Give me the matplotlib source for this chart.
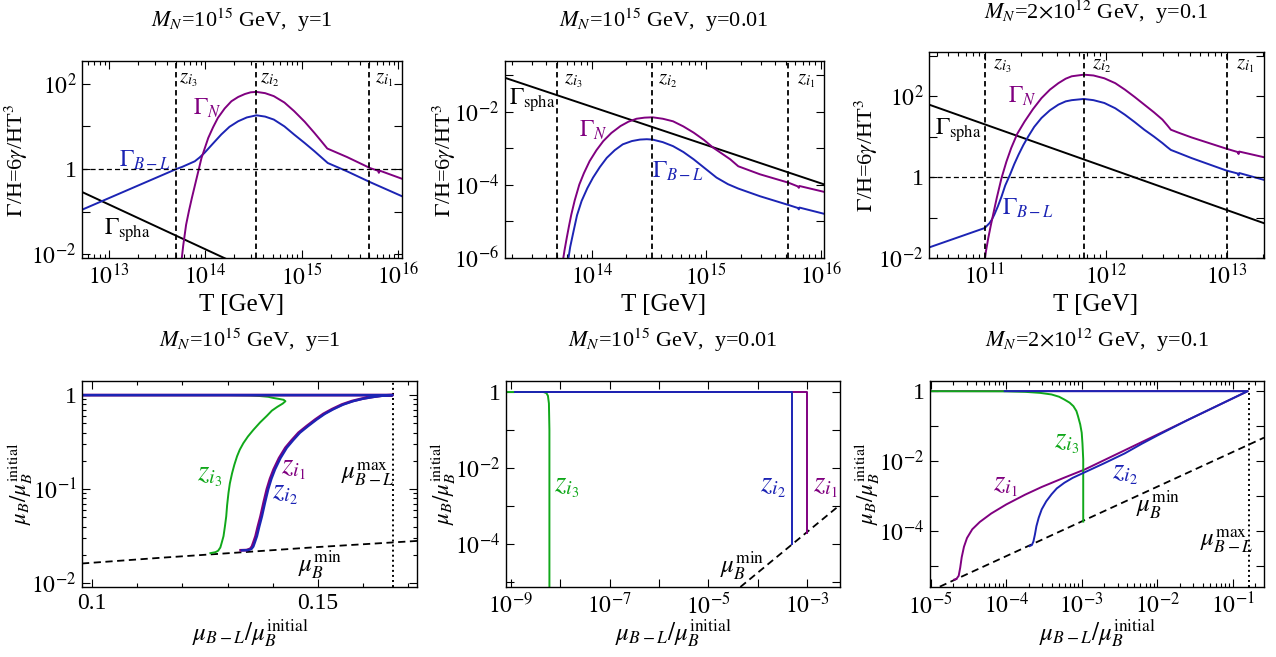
import numpy as np
import matplotlib
matplotlib.use("Agg")
import matplotlib.pyplot as plt
from matplotlib.ticker import LogLocator, FixedLocator, MultipleLocator, FuncFormatter, NullFormatter

plt.rcParams['font.family'] = ['Liberation Serif', 'DejaVu Serif']
plt.rcParams['mathtext.fontset'] = 'stix'

PURPLE = '#800080'
BLUE = '#1c24b4'
GREEN = '#10a81a'

# ---------------- top row: rates vs T (log10 values) ----
# panel 1: M_N = 1e15 GeV, y = 1
p1_zlines = [5e13, 3.33e14, 5e15]
p1_bl_logT = [12.72, 13.70, 13.76, 13.82, 13.89, 13.94, 13.99, 14.08, 14.165, 14.25, 14.34, 14.43, 14.53,
              14.62, 14.71, 14.82, 14.92, 15.03, 15.13, 15.20, 15.27, 15.47, 15.71, 16.04]
p1_bl_logG = [-0.957, 0.0, 0.05, 0.11, 0.18, 0.27, 0.376, 0.60, 0.81, 0.99, 1.12, 1.21, 1.26,
              1.23, 1.16, 1.00, 0.81, 0.61, 0.42, 0.28, 0.14, -0.055, -0.31, -0.64]
p1_N_logT = [13.74, 13.77, 13.80, 13.83, 13.86, 13.91, 13.96, 14.03, 14.08, 14.13, 14.20, 14.27, 14.34, 14.41,
             14.47, 14.53, 14.62, 14.71, 14.82, 14.92, 15.03, 15.13, 15.20, 15.265, 15.47, 15.71, 15.79, 15.80,
             15.81, 16.04]
p1_N_logG = [-2.4, -1.8, -1.31, -0.98, -0.68, -0.21, 0.26, 0.73, 0.98, 1.20, 1.42, 1.59, 1.69, 1.76,
             1.80, 1.81, 1.78, 1.71, 1.56, 1.36, 1.11, 0.85, 0.66, 0.48, 0.28, 0.02, -0.04, -0.09,
             -0.04, -0.23]
p1_sp_logT = [12.72, 14.30]
p1_sp_logG = [-0.54, -2.20]

# panel 2: M_N = 1e15 GeV, y = 0.01
p2_zlines = [5e13, 3.33e14, 5.2e15]
p2_N_logT = [13.74, 13.76, 13.78, 13.80, 13.82, 13.85, 13.89, 13.93, 13.98, 14.04, 14.10, 14.17, 14.25, 14.32,
             14.39, 14.46, 14.53, 14.62, 14.71, 14.80, 14.89, 14.98, 15.06, 15.14, 15.21, 15.28, 15.47, 15.72,
             15.80, 15.81, 15.815, 16.03]
p2_N_logG = [-6.2, -5.8, -5.45, -5.12, -4.81, -4.42, -3.99, -3.68, -3.35, -3.05, -2.80, -2.58, -2.39, -2.27,
             -2.19, -2.16, -2.15, -2.19, -2.26, -2.40, -2.57, -2.77, -2.98, -3.15, -3.30, -3.49, -3.71, -3.94,
             -4.04, -4.08, -4.03, -4.19]
p2_bl_logT = [13.785, 13.81, 13.84, 13.87, 13.91, 13.96, 14.01, 14.07, 14.13, 14.20, 14.27, 14.35, 14.42,
              14.48, 14.53, 14.62, 14.71, 14.80, 14.89, 14.99, 15.09, 15.19, 15.28, 15.47, 15.72, 15.80,
              15.81, 15.815, 16.03]
p2_bl_logG = [-6.2, -5.7, -5.26, -4.83, -4.44, -4.09, -3.80, -3.51, -3.26, -3.05, -2.89, -2.80, -2.76,
              -2.75, -2.76, -2.83, -2.94, -3.10, -3.30, -3.55, -3.80, -3.98, -4.10, -4.31, -4.55, -4.63,
              -4.67, -4.62, -4.79]
p2_sp_logT = [13.24, 16.035]
p2_sp_logG = [-1.07, -3.99]

# panel 3: M_N = 2e12 GeV, y = 0.1
p3_zlines = [1e11, 6.67e11, 1e13]
p3_N_logT = [10.99, 11.01, 11.03, 11.05, 11.07, 11.10, 11.14, 11.18, 11.22, 11.27, 11.33, 11.40, 11.47, 11.54,
             11.61, 11.67, 11.72, 11.82, 11.90, 11.99, 12.08, 12.16, 12.24, 12.32, 12.40, 12.47, 12.51, 12.54,
             12.60, 12.71, 13.0, 13.09, 13.10, 13.105, 13.31]
p3_N_logG = [-2.3, -1.85, -1.51, -1.21, -0.93, -0.52, -0.02, 0.38, 0.72, 1.07, 1.37, 1.68, 1.95, 2.16,
             2.32, 2.43, 2.49, 2.53, 2.51, 2.44, 2.32, 2.16, 1.98, 1.79, 1.60, 1.42, 1.28, 1.17,
             1.10, 0.98, 0.70, 0.62, 0.57, 0.63, 0.49]
p3_bl_logT = [10.54, 11.0, 11.04, 11.06, 11.08, 11.11, 11.14, 11.17, 11.21, 11.245, 11.28, 11.32, 11.36, 11.41,
              11.47, 11.54, 11.61, 11.67, 11.72, 11.82, 11.90, 11.99, 12.08, 12.16, 12.24, 12.32, 12.40, 12.47,
              12.51, 12.54, 12.60, 12.71, 13.0, 13.09, 13.10, 13.105, 13.31]
p3_bl_logG = [-1.74, -1.26, -1.14, -1.05, -0.93, -0.72, -0.48, -0.21, 0.06, 0.32, 0.55, 0.79, 1.0, 1.24,
              1.46, 1.65, 1.79, 1.87, 1.90, 1.93, 1.90, 1.83, 1.70, 1.54, 1.36, 1.17, 1.00, 0.84,
              0.74, 0.67, 0.60, 0.47, 0.16, 0.09, 0.04, 0.10, -0.07]
p3_sp_logT = [10.54, 13.31]
p3_sp_logG = [1.79, -1.14]

# ---------------- bottom row: mu_B vs mu_{B-L} -------------------------------
mu_BL_max = 1.0 / 6.0

# panel 4 (x linear, y as log10)
p4_green_x = [0.095, 0.130, 0.1350, 0.1372, 0.1390, 0.1401, 0.1413, 0.1424, 0.1428, 0.1422, 0.1410, 0.1398,
              0.1387, 0.1372, 0.1357, 0.1345, 0.1335, 0.1327, 0.1321, 0.1315, 0.1310, 0.1305, 0.1302, 0.1299,
              0.1297, 0.1294, 0.1291, 0.1287, 0.1284, 0.1279, 0.1273, 0.1262]
p4_green_logy = [0.0, 0.0, -0.004, -0.01, -0.018, -0.03, -0.04, -0.05, -0.065, -0.09, -0.125, -0.165,
                 -0.22, -0.29, -0.37, -0.44, -0.51, -0.58, -0.65, -0.74, -0.83, -0.94, -1.04, -1.17,
                 -1.29, -1.40, -1.50, -1.57, -1.62, -1.655, -1.67, -1.68]
p4_blue_x = [0.095, 0.1665, 0.1645, 0.1622, 0.1600, 0.1578, 0.1556, 0.1534, 0.1515, 0.1497, 0.1478, 0.1460,
             0.1445, 0.1431, 0.1417, 0.1405, 0.1397, 0.1390, 0.1383, 0.1376, 0.1370, 0.1365, 0.1360, 0.1357,
             0.1353, 0.1345, 0.1332]
p4_blue_logy = [0.0, 0.0, -0.005, -0.02, -0.038, -0.064, -0.10, -0.15, -0.20, -0.26, -0.33, -0.40,
                -0.48, -0.56, -0.67, -0.79, -0.89, -1.00, -1.14, -1.29, -1.40, -1.50, -1.57, -1.61,
                -1.635, -1.648, -1.65]
p4_purple_x = [0.095, 0.1665, 0.1642, 0.1619, 0.1597, 0.1575, 0.1553, 0.1531, 0.1512, 0.1494, 0.1475, 0.1457,
               0.1442, 0.1428, 0.1414, 0.1402, 0.1394, 0.1387, 0.1380, 0.1373, 0.1367, 0.1362, 0.1357, 0.1354,
               0.1350, 0.1342, 0.1329]
p4_purple_logy = p4_blue_logy
p4_min_x = [0.0978, 0.115, 0.135, 0.150, 0.172]
p4_min_logy = [-1.79, -1.73, -1.665, -1.615, -1.55]

# panel 5 (both as log10)
p5_green_logx = [-9.5, -8.34, -8.28, -8.25, -8.23, -8.22, -8.22]
p5_green_logy = [0.0, 0.0, -0.03, -0.10, -0.30, -1.0, -5.5]
p5_blue_logx = [-8.92, -3.295, -3.295]
p5_blue_logy = [0.0, 0.0, -4.01]
p5_purple_logx = [-8.92, -2.99, -2.99]
p5_purple_logy = [0.0, 0.0, -3.70]
p5_min_logx = [-4.35, -2.33]
p5_min_logy = [-5.13, -2.97]

# panel 6 (both as log10)
p6_green_logx = [-5.5, -4.0, -3.75, -3.55, -3.40, -3.30, -3.23, -3.16, -3.11, -3.07, -3.05, -3.02, -3.00,
                 -2.99, -2.98, -2.98]
p6_green_logy = [0.0, -0.005, -0.02, -0.05, -0.095, -0.16, -0.24, -0.33, -0.43, -0.57, -0.71, -0.95, -1.19,
                 -1.5, -1.95, -3.73]
p6_purple_logx = [-5.5, -0.80, -2.96, -3.25, -3.53, -3.75, -4.0, -4.2, -4.35, -4.45, -4.52, -4.56, -4.59,
                  -4.61, -4.63, -4.66, -4.69]
p6_purple_logy = [0.0, 0.0, -2.24, -2.49, -2.74, -2.96, -3.24, -3.50, -3.74, -3.95, -4.20, -4.45, -4.75,
                  -5.05, -5.28, -5.37, -5.39]
p6_blue_logx = [-4.02, -0.80, -1.6, -1.99, -2.2, -2.43, -2.7, -2.97, -3.12, -3.23, -3.33, -3.40, -3.47,
                -3.53, -3.57, -3.60, -3.62, -3.64, -3.66, -3.69]
p6_blue_logy = [0.0, 0.0, -0.83, -1.26, -1.50, -1.78, -2.06, -2.33, -2.48, -2.62, -2.78, -2.95, -3.15,
                -3.38, -3.62, -3.86, -4.10, -4.30, -4.40, -4.43]
p6_min_logx = [-4.88, -0.585]
p6_min_logy = [-5.59, -1.33]

W, H = 1276, 657
fig = plt.figure(figsize=(W / 100, H / 100), dpi=100)


def add_ax(l, r, t, b):
    return fig.add_axes([l / W, 1 - b / H, (r - l) / W, (b - t) / H])


def ftext(x, y, s, **kw):
    kw.setdefault('ha', 'center')
    kw.setdefault('va', 'center')
    fig.text(x / W, 1 - y / H, s, **kw)


def log_fmt(show):
    def f(v, pos):
        e = int(round(np.log10(v)))
        if e not in show:
            return ''
        return '1' if e == 0 else r'$10^{%d}$' % e
    return FuncFormatter(f)


def style(ax):
    ax.tick_params(which='both', direction='in', top=True, right=True, labelsize=17, width=0.8)
    ax.tick_params(which='major', length=6, pad=4)
    ax.tick_params(which='minor', length=3)
    for s in ax.spines.values():
        s.set_linewidth(1.0)


def decade_ticks(ax, axis, lo, hi, show, minor=True):
    a = ax.xaxis if axis == 'x' else ax.yaxis
    a.set_major_locator(FixedLocator([10.0 ** e for e in range(lo, hi + 1)]))
    a.set_major_formatter(log_fmt(show))
    if minor:
        a.set_minor_locator(LogLocator(base=10, subs=np.arange(2, 10), numticks=50))
    else:
        a.set_minor_locator(FixedLocator([]))
    a.set_minor_formatter(NullFormatter())


def p10(v):
    return 10.0 ** np.array(v)


lw = 1.4
ylab_top = r'$\Gamma$/H=6$\gamma$/HT$^3$'
ylab_bot = r'$\mu_B/\mu_B^{\rm initial}$'
xlab_bot = r'$\mu_{B-L}/\mu_B^{\rm initial}$'

# ---- panel 1
ax = add_ax(82, 402, 61, 258)
ax.set_xscale('log'); ax.set_yscale('log')
ax.plot(p10(p1_sp_logT), p10(p1_sp_logG), color='black', lw=lw)
ax.plot(p10(p1_bl_logT), p10(p1_bl_logG), color=BLUE, lw=lw)
ax.plot(p10(p1_N_logT), p10(p1_N_logG), color=PURPLE, lw=lw)
ax.axhline(1, color='black', lw=0.9, ls=(0, (4, 2.5)))
for z in p1_zlines:
    ax.axvline(z, color='black', lw=1.3, ls=(0, (3, 2)))
ax.set_xlim(10 ** 12.72, 10 ** 16.04)
ax.set_ylim(10 ** -2.09, 10 ** 2.535)
decade_ticks(ax, 'x', 12, 16, {13, 14, 15, 16})
decade_ticks(ax, 'y', -3, 3, {-2, 0, 2}, minor=False)
style(ax)

# ---- panel 2
ax = add_ax(505, 824, 61, 258)
ax.set_xscale('log'); ax.set_yscale('log')
ax.plot(p10(p2_sp_logT), p10(p2_sp_logG), color='black', lw=lw)
ax.plot(p10(p2_bl_logT), p10(p2_bl_logG), color=BLUE, lw=lw)
ax.plot(p10(p2_N_logT), p10(p2_N_logG), color=PURPLE, lw=lw)
for z in p2_zlines:
    ax.axvline(z, color='black', lw=1.3, ls=(0, (3, 2)))
ax.set_xlim(10 ** 13.24, 10 ** 16.03)
ax.set_ylim(1e-6, 10 ** -0.61)
decade_ticks(ax, 'x', 13, 16, {14, 15, 16})
decade_ticks(ax, 'y', -7, 0, {-2, -4, -6}, minor=False)
style(ax)

# ---- panel 3
ax = add_ax(929, 1264, 52, 258)
ax.set_xscale('log'); ax.set_yscale('log')
ax.plot(p10(p3_sp_logT), p10(p3_sp_logG), color='black', lw=lw)
ax.plot(p10(p3_bl_logT), p10(p3_bl_logG), color=BLUE, lw=lw)
ax.plot(p10(p3_N_logT), p10(p3_N_logG), color=PURPLE, lw=lw)
ax.axhline(1, color='black', lw=0.9, ls=(0, (4, 2.5)))
for z in p3_zlines:
    ax.axvline(z, color='black', lw=1.3, ls=(0, (3, 2)))
ax.set_xlim(10 ** 10.54, 10 ** 13.31)
ax.set_ylim(1e-2, 10 ** 3.09)
decade_ticks(ax, 'x', 10, 14, {11, 12, 13})
decade_ticks(ax, 'y', -2, 3, {-2, 0, 2}, minor=False)
style(ax)

# ---- panel 4
ax = add_ax(82, 417, 381, 587)
ax.set_yscale('log')
ax.plot(p4_min_x, p10(p4_min_logy), color='black', lw=1.3, ls=(0, (4, 2.5)))
ax.axvline(mu_BL_max, color='black', lw=1.4, ls=(0, (1, 1.6)))
ax.plot(p4_green_x, p10(p4_green_logy), color=GREEN, lw=lw)
ax.plot(p4_purple_x, p10(p4_purple_logy), color=PURPLE, lw=lw + 0.6)
ax.plot(p4_blue_x, p10(p4_blue_logy), color=BLUE, lw=lw + 0.3)
ax.set_xlim(0.0978, 0.1719)
ax.set_ylim(10 ** -2.04, 10 ** 0.15)
ax.xaxis.set_major_locator(FixedLocator([0.1, 0.15]))
ax.xaxis.set_major_formatter(FuncFormatter(lambda v, p: '%g' % v))
ax.xaxis.set_minor_locator(MultipleLocator(0.01))
decade_ticks(ax, 'y', -2, 0, {-2, -1, 0})
style(ax)

# ---- panel 5
ax = add_ax(506, 840, 381, 587)
ax.set_xscale('log'); ax.set_yscale('log')
ax.plot(p10(p5_min_logx), p10(p5_min_logy), color='black', lw=1.3, ls=(0, (4, 2.5)))
ax.plot(p10(p5_purple_logx), p10(p5_purple_logy), color=PURPLE, lw=lw)
ax.plot(p10(p5_green_logx), p10(p5_green_logy), color=GREEN, lw=lw)
ax.plot(p10(p5_blue_logx), p10(p5_blue_logy), color=BLUE, lw=lw)
ax.set_xlim(10 ** -9.1, 10 ** -2.33)
ax.set_ylim(10 ** -5.13, 10 ** 0.29)
decade_ticks(ax, 'x', -9, -2, {-9, -7, -5, -3}, minor=False)
decade_ticks(ax, 'y', -5, 0, {0, -2, -4}, minor=False)
style(ax)

# ---- panel 6
ax = add_ax(930, 1264, 381, 587)
ax.set_xscale('log'); ax.set_yscale('log')
ax.plot(p10(p6_min_logx), p10(p6_min_logy), color='black', lw=1.3, ls=(0, (4, 2.5)))
ax.axvline(mu_BL_max, color='black', lw=1.4, ls=(0, (1, 1.6)))
ax.plot(p10(p6_purple_logx), p10(p6_purple_logy), color=PURPLE, lw=lw)
ax.plot(p10(p6_green_logx), p10(p6_green_logy), color=GREEN, lw=lw)
ax.plot(p10(p6_blue_logx), p10(p6_blue_logy), color=BLUE, lw=lw)
ax.set_xlim(10 ** -5.01, 10 ** -0.585)
ax.set_ylim(10 ** -5.6, 10 ** 0.29)
decade_ticks(ax, 'x', -5, 0, {-5, -4, -3, -2, -1})
decade_ticks(ax, 'y', -6, 0, {0, -2, -4}, minor=False)
style(ax)

# ---------------- titles and axis labels ------------------------------------
t1 = r'$M_N$=10$^{15}$ GeV,  y=1'
t2 = r'$M_N$=10$^{15}$ GeV,  y=0.01'
t3 = r'$M_N$=2$\times$10$^{12}$ GeV,  y=0.1'
ftext(242, 20, t1, fontsize=16)
ftext(664, 20, t2, fontsize=16)
ftext(1096, 12, t3, fontsize=16)
ftext(250, 340, t1, fontsize=16)
ftext(673, 340, t2, fontsize=16)
ftext(1097, 340, t3, fontsize=16)

for x in (242, 664, 1096):
    ftext(x, 305, 'T [GeV]', fontsize=18)
for x, y in ((16, 160), (444, 160), (866, 155)):
    ftext(x, y, ylab_top, fontsize=16, rotation=90)
for x in (250, 673, 1097):
    ftext(x, 633, xlab_bot, fontsize=18)
for x in (20, 443, 867):
    ftext(x, 484, ylab_bot, fontsize=16.5, rotation=90)

# ---------------- in-plot labels --------------------------------------------
zs = [r'$z_{i_3}$', r'$z_{i_2}$', r'$z_{i_1}$']
for (x, y), s in zip(((188, 80), (270, 80), (384, 80)), zs):
    ftext(x, y, s, fontsize=15)
for (x, y), s in zip(((573, 81), (668, 81), (806, 81)), zs):
    ftext(x, y, s, fontsize=15)
for (x, y), s in zip(((1002, 66), (1102, 66), (1245, 66)), zs):
    ftext(x, y, s, fontsize=15)

ftext(207, 108, r'$\Gamma_N$', fontsize=17, color=PURPLE)
ftext(145, 160, r'$\Gamma_{B-L}$', fontsize=17, color=BLUE)
ftext(127, 230, r'$\Gamma_{\rm spha}$', fontsize=17)
ftext(532, 100, r'$\Gamma_{\rm spha}$', fontsize=17)
ftext(593, 130, r'$\Gamma_N$', fontsize=17, color=PURPLE)
ftext(678, 171, r'$\Gamma_{B-L}$', fontsize=17, color=BLUE)
ftext(1022, 96, r'$\Gamma_N$', fontsize=17, color=PURPLE)
ftext(958, 130, r'$\Gamma_{\rm spha}$', fontsize=17)
ftext(1028, 208, r'$\Gamma_{B-L}$', fontsize=17, color=BLUE)

ftext(210, 476, r'$z_{i_3}$', fontsize=21, color=GREEN)
ftext(293, 469, r'$z_{i_1}$', fontsize=21, color=PURPLE)
ftext(285, 494, r'$z_{i_2}$', fontsize=21, color=BLUE)
ftext(368, 474, r'$\mu_{B-L}^{\rm max}$', fontsize=18)
ftext(320, 564, r'$\mu_B^{\rm min}$', fontsize=18)

ftext(567, 487, r'$z_{i_3}$', fontsize=21, color=GREEN)
ftext(773, 487, r'$z_{i_2}$', fontsize=21, color=BLUE)
ftext(825, 487, r'$z_{i_1}$', fontsize=21, color=PURPLE)
ftext(742, 565, r'$\mu_B^{\rm min}$', fontsize=18)

ftext(1067, 443, r'$z_{i_3}$', fontsize=21, color=GREEN)
ftext(1005, 486, r'$z_{i_1}$', fontsize=21, color=PURPLE)
ftext(1125, 474, r'$z_{i_2}$', fontsize=21, color=BLUE)
ftext(1158, 504, r'$\mu_B^{\rm min}$', fontsize=18)
ftext(1227, 541, r'$\mu_{B-L}^{\rm max}$', fontsize=18)

fig.savefig('out.png', dpi=100)
